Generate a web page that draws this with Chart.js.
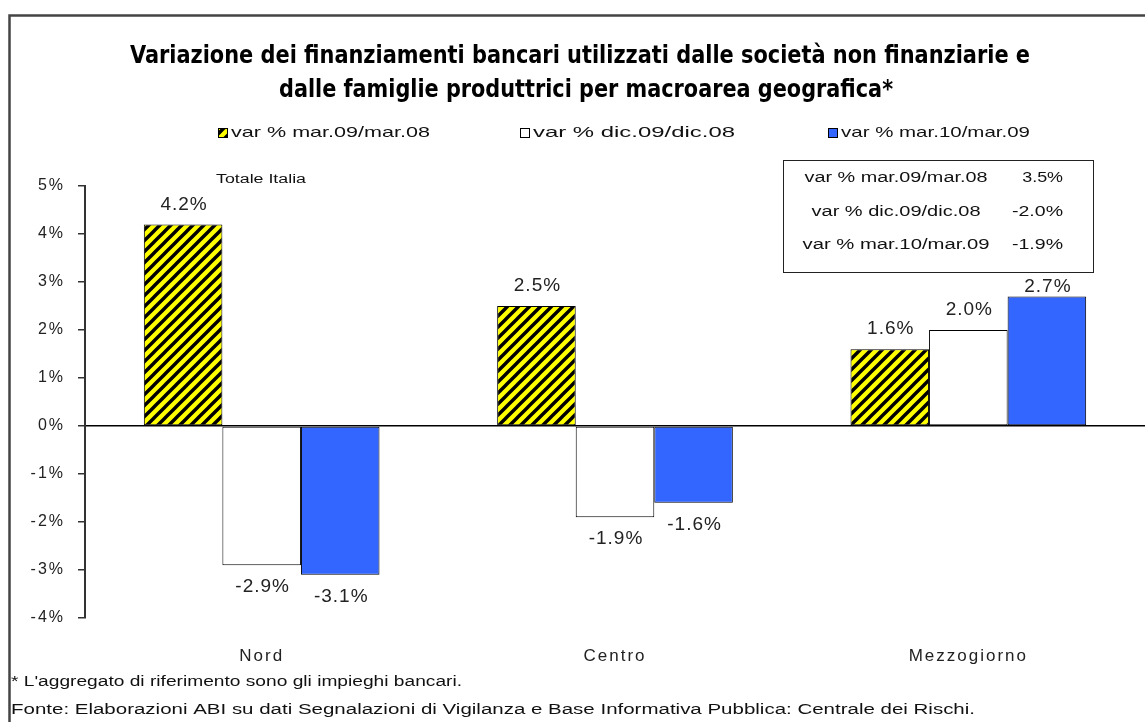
<!DOCTYPE html>
<html>
<head>
<meta charset="utf-8">
<script src="https://cdn.jsdelivr.net/npm/chart.js@4.4.0/dist/chart.umd.min.js"></script>
<style>
html, body { margin: 0; padding: 0; background: #fff; }
canvas { display: block; }
</style>
</head>
<body>
<canvas id="myChart" width="1145" height="722"></canvas>
<script>
// chart data
const categories = ['Nord', 'Centro', 'Mezzogiorno'];
const seriesLabels = ['var % mar.09/mar.08', 'var % dic.09/dic.08', 'var % mar.10/mar.09'];
const varMar09 = [4.2, 2.5, 1.6];
const varDic09 = [-2.9, -1.9, 2.0];
const varMar10 = [-3.1, -1.6, 2.7];
const yTicks = [-4, -3, -2, -1, 0, 1, 2, 3, 4, 5];
const totalTitle = 'Totale Italia';
const totalValues = [3.5, -2.0, -1.9];
const titleLines = [
    'Variazione dei finanziamenti bancari utilizzati dalle società non finanziarie e',
    'dalle famiglie produttrici per macroarea geografica*'
];
const notes = [
    "* L'aggregato di riferimento sono gli impieghi bancari.",
    'Fonte: Elaborazioni ABI su dati Segnalazioni di Vigilanza e Base Informativa Pubblica: Centrale dei Rischi.'
];

const FONT = '"Liberation Sans", Arial, sans-serif';
const pct = v => v.toFixed(1) + '%';

// box with the Totale Italia values (labels are kept out of it)
const totalsBox = { x: 783.5, y: 160.5, w: 310, h: 112 };

// yellow with black diagonal stripes
function makeHatch() {
    const s = 11;
    const c = document.createElement('canvas');
    c.width = s; c.height = s;
    const g = c.getContext('2d');
    g.fillStyle = '#ffff00';
    g.fillRect(0, 0, s, s);
    g.strokeStyle = '#000';
    g.lineWidth = 3.4;
    g.beginPath();
    g.moveTo(-2, s + 2); g.lineTo(s + 2, -2);
    g.moveTo(-2, 2); g.lineTo(2, -2);
    g.moveTo(s - 2, s + 2); g.lineTo(s + 2, s - 2);
    g.stroke();
    return g.createPattern(c, 'repeat');
}

// draw text stretched/squeezed to a given width
function fitText(ctx, text, x, y, w, align) {
    const m = ctx.measureText(text).width;
    const sx = w / m;
    ctx.save();
    ctx.translate(x, y);
    ctx.scale(sx, 1);
    ctx.textAlign = align || 'left';
    ctx.fillText(text, 0, 0);
    ctx.restore();
}

const spacingPlugin = {
    id: 'spacing',
    beforeLayout(chart) { chart.ctx.letterSpacing = '2px'; },
    beforeDraw(chart) {
        const ctx = chart.ctx;
        ctx.save();
        ctx.letterSpacing = '0px';
        ctx.fillStyle = '#fff';
        ctx.fillRect(0, 0, chart.width, chart.height);
        ctx.restore();
        ctx.letterSpacing = '2px';
    }
};

const labelsPlugin = {
    id: 'barLabels',
    afterDatasetsDraw(chart) {
        const ctx = chart.ctx;
        ctx.save();
        ctx.letterSpacing = '1px';
        ctx.font = '19px ' + FONT;
        ctx.fillStyle = '#222';
        ctx.textAlign = 'center';
        ctx.textBaseline = 'middle';
        chart.data.datasets.forEach((ds, i) => {
            chart.getDatasetMeta(i).data.forEach((bar, j) => {
                const v = ds.data[j];
                let y = v >= 0 ? bar.y - 20 : bar.y + 22;
                // keep the label from running into the totals box
                const inBoxX = bar.x > totalsBox.x && bar.x < totalsBox.x + totalsBox.w;
                if (v >= 0 && inBoxX && y - 9 < totalsBox.y + totalsBox.h) {
                    y = totalsBox.y + totalsBox.h + 14;
                }
                ctx.fillText(pct(v), bar.x + 1, y);
            });
        });
        ctx.restore();
    }
};

const extrasPlugin = {
    id: 'extras',
    afterDraw(chart) {
        const ctx = chart.ctx;
        ctx.save();
        ctx.letterSpacing = '0px';
        ctx.textBaseline = 'middle';

        // outer frame
        ctx.strokeStyle = '#444';
        ctx.lineWidth = 2.5;
        ctx.beginPath();
        ctx.moveTo(9.5, chart.height);
        ctx.lineTo(9.5, 15.5);
        ctx.lineTo(chart.width, 15.5);
        ctx.stroke();

        // title
        ctx.fillStyle = '#000';
        ctx.font = 'bold 24px "Liberation Sans Narrow", "DejaVu Sans Condensed", sans-serif';
        fitText(ctx, titleLines[0], 130, 57, 900);
        fitText(ctx, titleLines[1], 279, 91, 614);

        // legend
        const boxX = [218, 520, 828];
        const textW = [199, 202, 189];
        ctx.font = '15px ' + FONT;
        chart.data.datasets.forEach((ds, i) => {
            ctx.fillStyle = ds.backgroundColor;
            ctx.fillRect(boxX[i], 128, 10, 10);
            ctx.strokeStyle = '#000';
            ctx.lineWidth = 1;
            ctx.strokeRect(boxX[i] + 0.5, 128.5, 9, 9);
            ctx.fillStyle = '#111';
            fitText(ctx, ds.label, boxX[i] + 13, 133, textW[i]);
        });

        // Totale Italia
        ctx.font = '12px ' + FONT;
        fitText(ctx, totalTitle, 216, 180, 90);

        ctx.strokeStyle = '#222';
        ctx.lineWidth = 1;
        ctx.strokeRect(totalsBox.x, totalsBox.y, totalsBox.w, totalsBox.h);
        const rowY = [178, 212, 245];
        const rowW = [183, 169, 187];
        ctx.font = '14px ' + FONT;
        ctx.fillStyle = '#111';
        seriesLabels.forEach((lab, i) => {
            fitText(ctx, lab, 896, rowY[i], rowW[i], 'center');
            const t = pct(totalValues[i]);
            fitText(ctx, t, 1063, rowY[i], t.length * 10.2, 'right');
        });

        // notes
        ctx.font = '14px ' + FONT;
        fitText(ctx, notes[0], 11, 682, 451);
        fitText(ctx, notes[1], 11, 710, 964);
        ctx.restore();
    }
};

const ctx = document.getElementById('myChart').getContext('2d');
const hatch = makeHatch();

window.myChart = new Chart(ctx, {
    type: 'bar',
    data: {
        labels: categories,
        datasets: [
            { label: seriesLabels[0], data: varMar09, backgroundColor: hatch },
            { label: seriesLabels[1], data: varDic09, backgroundColor: '#ffffff' },
            { label: seriesLabels[2], data: varMar10, backgroundColor: '#3366ff' }
        ].map(d => Object.assign(d, {
            borderColor: '#000',
            borderWidth: 1,
            borderSkipped: false,
            categoryPercentage: 0.667,
            barPercentage: 1
        }))
    },
    options: {
        responsive: false,
        animation: false,
        devicePixelRatio: 1,
        layout: { padding: { left: 10, top: 186, right: 0, bottom: 56 } },
        plugins: {
            legend: { display: false },
            title: { display: false },
            tooltip: { enabled: false }
        },
        scales: {
            x: {
                grid: { display: false, drawTicks: false },
                border: { display: false },
                ticks: {
                    color: '#222',
                    font: { family: FONT, size: 17 },
                    padding: 28
                },
                afterFit: s => { s.height = 48; }
            },
            y: {
                min: Math.min(...yTicks),
                max: Math.max(...yTicks),
                ticks: {
                    stepSize: 1,
                    color: '#222',
                    font: { family: FONT, size: 16 },
                    padding: 13,
                    callback: v => v + '%'
                },
                grid: {
                    color: c => c.tick && c.tick.value === 0 ? '#000' : 'rgba(0,0,0,0)',
                    tickColor: '#333',
                    tickLength: 7,
                    lineWidth: 1.5
                },
                border: { color: '#333', width: 2 },
                afterFit: s => { s.width = 75; }
            }
        }
    },
    plugins: [spacingPlugin, labelsPlugin, extrasPlugin]
});
</script>
</body>
</html>
